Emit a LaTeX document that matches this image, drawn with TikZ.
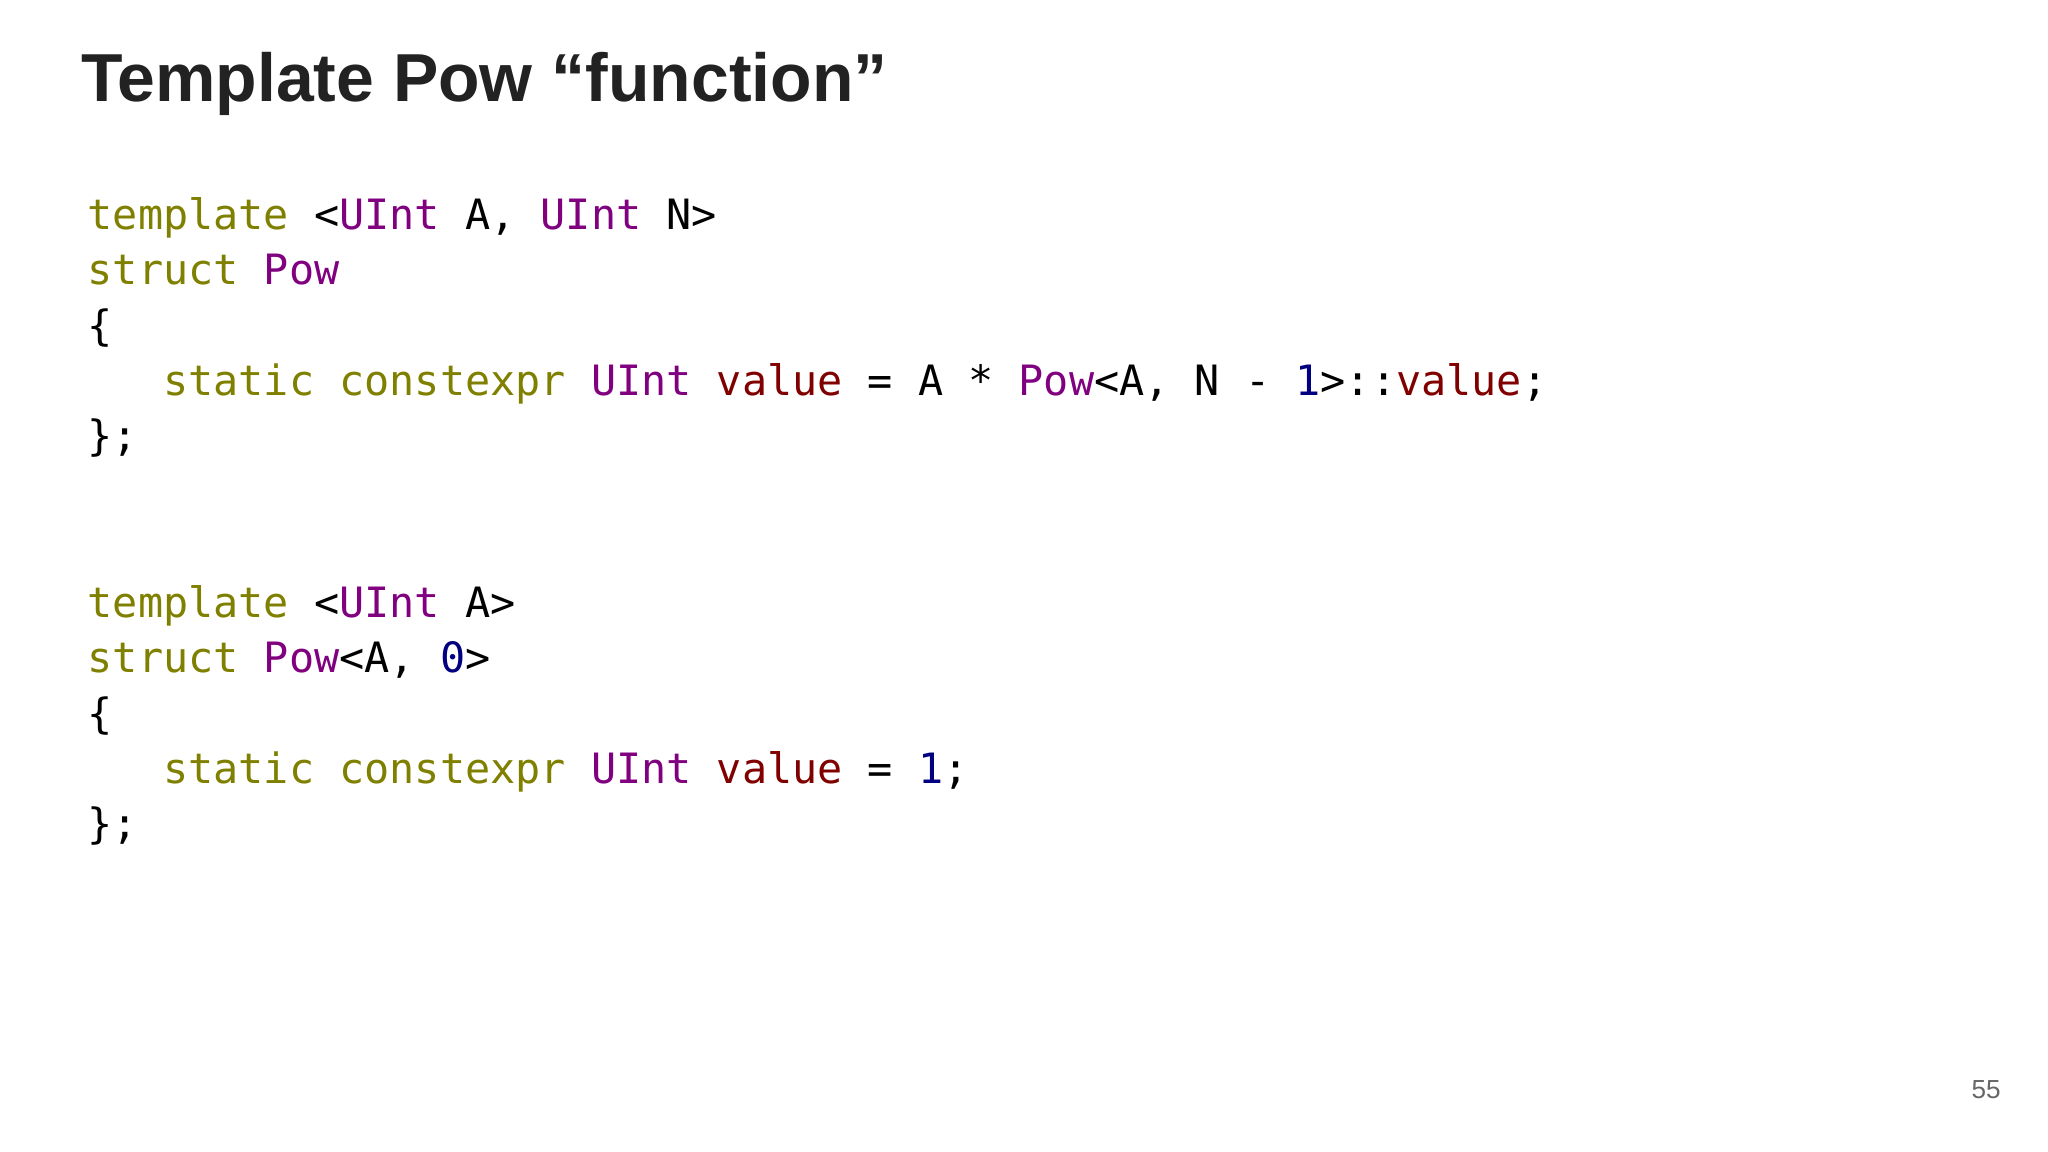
\documentclass[tikz,border=0pt]{standalone}
\usepackage{fontspec}
\setmainfont{Liberation Sans}
\newfontfamily\codefont{DejaVu Sans Mono}[Scale=1]
\definecolor{kw}{RGB}{128,128,0}
\definecolor{ty}{RGB}{128,0,128}
\definecolor{vl}{RGB}{128,0,0}
\definecolor{nm}{RGB}{0,0,128}
\definecolor{txt}{RGB}{34,34,34}
\newcommand\sq{\phantom{x}}
\newcommand\K[1]{\textcolor{kw}{#1}}
\newcommand\T[1]{\textcolor{ty}{#1}}
\newcommand\V[1]{\textcolor{vl}{#1}}
\newcommand\N[1]{\textcolor{nm}{#1}}
\begin{document}
\begin{tikzpicture}[x=1pt,y=-1pt,
  code/.style={anchor=base west,inner sep=0pt,font=\codefont\fontsize{32}{38}\selectfont,text=black}]
\useasboundingbox (0,0) rectangle (1568,882);
\fill[white] (0,0) rectangle (1568,882);
\node[anchor=base west,inner sep=0pt,font=\bfseries\fontsize{52}{60}\selectfont,text=txt] (title) at (62,78) {Template Pow “function”};
\node[code] (l1) at (67,176) {\K{template}\sq<\T{UInt}\sq A,\sq\T{UInt}\sq N>};
\node[code] (l2) at (67,218) {\K{struct}\sq\T{Pow}};
\node[code] (l3) at (67,261) {\{};
\node[code] (l4) at (67,303) {\sq\sq\sq\K{static}\sq\K{constexpr}\sq\T{UInt}\sq\V{value}\sq=\sq A\sq*\sq\T{Pow}<A,\sq N\sq-\sq\N{1}>::\V{value};};
\node[code] (l5) at (67,345) {\};};
\node[code] (m1) at (67,473) {\K{template}\sq<\T{UInt}\sq A>};
\node[code] (m2) at (67,515) {\K{struct}\sq\T{Pow}<A,\sq\N{0}>};
\node[code] (m3) at (67,558) {\{};
\node[code] (m4) at (67,600) {\sq\sq\sq\K{static}\sq\K{constexpr}\sq\T{UInt}\sq\V{value}\sq=\sq\N{1};};
\node[code] (m5) at (67,642) {\};};
\node[anchor=base east,inner sep=0pt,font=\fontsize{20}{24}\selectfont,text=black!60] (pg) at (1532,841) {55};
\end{tikzpicture}
\end{document}
